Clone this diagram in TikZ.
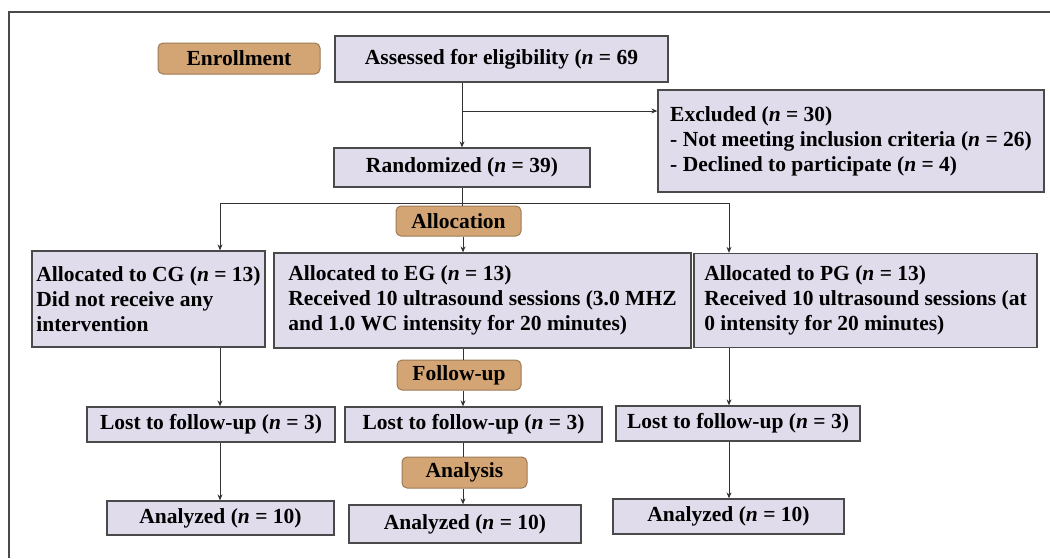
\documentclass[tikz,border=0pt]{standalone}
\usepackage{fontspec}
\setmainfont{Liberation Serif}
\usetikzlibrary{arrows.meta}
\definecolor{boxfill}{HTML}{E0DCEC}
\definecolor{boxline}{HTML}{4A4A4A}
\definecolor{tagfill}{HTML}{D4A574}
\definecolor{tagline}{HTML}{9C7A55}
\tikzset{
  box/.style={draw=boxline, line width=1.3pt, fill=boxfill, inner sep=0pt, font=\fontsize{21.5}{25}\selectfont\bfseries},
  tag/.style={draw=tagline, line width=1pt, fill=tagfill, rounded corners=5pt, inner sep=0pt, font=\fontsize{21.5}{25}\selectfont\bfseries},
  conn/.style={draw=black!80, line width=0.9pt},
  arr/.style={conn, -{Stealth[length=6pt,width=5pt]}},
}
\begin{document}
\begin{tikzpicture}[x=1pt,y=-1pt]
\useasboundingbox (0,0) rectangle (1050,558);
% frame
\draw[boxline, line width=1.5pt] (1050,12) -- (9,12) -- (9,558);
% nodes
\node[tag, minimum width=162pt, minimum height=31pt] (enroll) at (239,58.5) {Enrollment};
\node[box, minimum width=333pt, minimum height=46pt] (assess) at (501.5,59) {Assessed for eligibility (\textit{n} = 69};
\node[box, minimum width=386pt, minimum height=102pt, align=left] (excl) at (851,141) {Excluded (\textit{n} = 30)\\- Not meeting inclusion criteria (\textit{n} = 26)\\- Declined to participate (\textit{n} = 4)};
\node[box, minimum width=256pt, minimum height=39pt] (rand) at (462,167.5) {Randomized (\textit{n} = 39)};
\node[tag, minimum width=125pt, minimum height=30pt] (alloc) at (458.5,221) {Allocation};
\node[box, minimum width=233pt, minimum height=96pt, align=left] (cg) at (148.5,299) {Allocated to CG (\textit{n} = 13)\\Did not receive any\\intervention};
\node[box, minimum width=417pt, minimum height=95pt, align=left] (eg) at (482.5,300.5) {Allocated to EG (\textit{n} = 13)\\Received 10 ultrasound sessions (3.0 MHZ\\and 1.0 WC intensity for 20 minutes)};
\node[box, minimum width=343pt, minimum height=94pt, align=left] (pg) at (865.5,300.5) {Allocated to PG (\textit{n} = 13)\\Received 10 ultrasound sessions (at\\0 intensity for 20 minutes)};
\node[tag, minimum width=124pt, minimum height=30pt] (fu) at (459,375) {Follow-up};
\node[box, minimum width=248pt, minimum height=35pt] (lost1) at (211,424.5) {Lost to follow-up (\textit{n} = 3)};
\node[box, minimum width=257pt, minimum height=35pt] (lost2) at (473.5,424.5) {Lost to follow-up (\textit{n} = 3)};
\node[box, minimum width=244pt, minimum height=35pt] (lost3) at (738,423.5) {Lost to follow-up (\textit{n} = 3)};
\node[tag, minimum width=125pt, minimum height=31pt] (an) at (464.5,472.5) {Analysis};
\node[box, minimum width=227pt, minimum height=34pt] (ana1) at (220.5,518) {Analyzed (\textit{n} = 10)};
\node[box, minimum width=232pt, minimum height=38pt] (ana2) at (465,524) {Analyzed (\textit{n} = 10)};
\node[box, minimum width=231pt, minimum height=35pt] (ana3) at (728.5,516.5) {Analyzed (\textit{n} = 10)};
% column coordinates
\coordinate (b1) at (462,111);
\coordinate (hl) at (220,203);
\coordinate (hr) at (729,203);
\coordinate (cm) at (463,0);
% connectors
\draw[arr] (rand.north |- assess.south) -- (rand.north);
\draw[arr] (b1) -- (b1 -| excl.west);
\draw[conn] (rand.south) -- (alloc.north -| rand.south);
\draw[conn] (hl) -- (hr);
\draw[arr] (hl) -- (hl |- cg.north);
\draw[arr] (hr) -- (hr |- pg.north);
\draw[arr] (cm |- alloc.south) -- (cm |- eg.north);
\draw[arr] (hl |- cg.south) -- (hl |- lost1.north);
\draw[arr] (hl |- lost1.south) -- (hl |- ana1.north);
\draw[arr] (hr |- pg.south) -- (hr |- lost3.north);
\draw[arr] (hr |- lost3.south) -- (hr |- ana3.north);
\draw[conn] (cm |- eg.south) -- (cm |- fu.north);
\draw[arr] (cm |- fu.south) -- (cm |- lost2.north);
\draw[conn] (cm |- lost2.south) -- (cm |- an.north);
\draw[arr] (cm |- an.south) -- (cm |- ana2.north);
\end{tikzpicture}
\end{document}
